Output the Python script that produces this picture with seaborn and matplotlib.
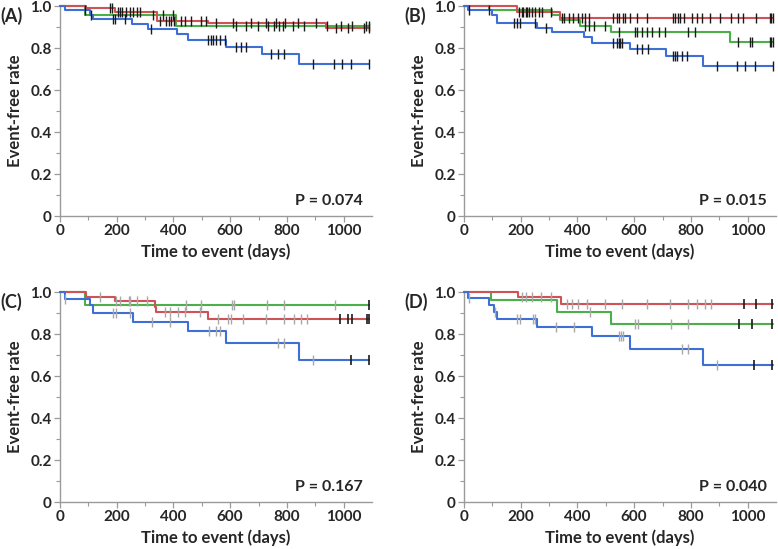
import numpy as np
import matplotlib
matplotlib.use("Agg")
import matplotlib.pyplot as plt
import seaborn as sns

# Kaplan-Meier step curves (days, event-free rate)
A_blue_t = [0, 18, 105, 115, 255, 311, 414, 451, 586, 713, 844, 1090]
A_blue_s = [1.0, 0.980, 0.958, 0.939, 0.914, 0.889, 0.866, 0.839, 0.806, 0.772, 0.722, 0.722]
A_red_t = [0, 91, 193, 342, 522, 938, 1090]
A_red_s = [1.0, 0.989, 0.970, 0.930, 0.917, 0.894, 0.894]
A_green_t = [0, 88, 410, 1090]
A_green_s = [1.0, 0.956, 0.905, 0.905]

B_blue_t = [0, 15, 100, 115, 258, 311, 422, 451, 586, 713, 844, 1090]
B_blue_s = [1.0, 0.979, 0.959, 0.921, 0.897, 0.876, 0.852, 0.825, 0.797, 0.760, 0.713, 0.713]
B_red_t = [0, 188, 340, 1090]
B_red_s = [1.0, 0.971, 0.943, 0.943]
B_green_t = [0, 88, 311, 340, 410, 519, 938, 1090]
B_green_s = [1.0, 0.979, 0.956, 0.932, 0.905, 0.876, 0.829, 0.829]

C_blue_t = [0, 18, 105, 115, 258, 451, 586, 844, 1090]
C_blue_s = [1.0, 0.965, 0.937, 0.902, 0.858, 0.816, 0.756, 0.677, 0.677]
C_red_t = [0, 91, 193, 334, 340, 522, 1090]
C_red_s = [1.0, 0.976, 0.956, 0.929, 0.906, 0.872, 0.872]
C_green_t = [0, 88, 1090]
C_green_s = [1.0, 0.940, 0.940]

D_blue_t = [0, 15, 88, 105, 117, 258, 451, 586, 844, 1090]
D_blue_s = [1.0, 0.971, 0.939, 0.905, 0.872, 0.832, 0.790, 0.728, 0.654, 0.654]
D_red_t = [0, 191, 342, 1090]
D_red_s = [1.0, 0.974, 0.942, 0.942]
D_green_t = [0, 94, 328, 519, 1090]
D_green_s = [1.0, 0.963, 0.904, 0.850, 0.850]

# censored observations (days); "_dark" ones are drawn black in C/D
A_blue_cens = [88, 111, 188, 193, 229, 322, 522, 531, 541, 551, 565, 580, 621, 639, 656,
               744, 768, 791, 891, 965, 994, 1026, 1090]
A_red_cens = [176, 182, 205, 211, 217, 232, 246, 258, 272, 281, 352, 375, 384, 393, 401,
              428, 440, 463, 498, 516, 551, 609, 674, 727, 762, 795, 838, 902, 973, 1014,
              1072, 1090]
A_green_cens = [328, 363, 400, 621, 656, 697, 732, 756, 771, 785, 820, 861, 943, 990,
                1031, 1078, 1088]

B_blue_cens = [18, 88, 176, 188, 199, 252, 289, 527, 539, 545, 551, 557, 609, 627, 650,
               738, 744, 750, 768, 785, 891, 961, 990, 1026, 1090]
B_red_cens = [193, 205, 209, 217, 223, 229, 240, 252, 264, 275, 305, 346, 352, 369, 383,
              402, 416, 428, 440, 527, 539, 547, 559, 568, 586, 609, 645, 738, 744, 756,
              762, 774, 803, 820, 838, 867, 902, 943, 967, 984, 1031, 1078, 1084, 1090]
B_green_cens = [428, 440, 457, 498, 545, 604, 609, 627, 645, 662, 686, 709, 791, 815,
                967, 1008, 1014, 1078, 1084, 1090]

C_blue_cens = [18, 188, 199, 246, 326, 389, 525, 551, 563, 768, 791, 891]
C_blue_dark = [1026, 1090]
C_red_cens = [141, 199, 211, 244, 248, 272, 305, 369, 387, 416, 440, 492, 557, 592, 604,
              645, 727, 791, 826, 850, 870]
C_red_dark = [987, 1014, 1031, 1084, 1088]
C_green_cens = [445, 498, 607, 612, 729, 788, 970]
C_green_dark = [1090]

D_blue_cens = [18, 111, 188, 199, 244, 252, 325, 387, 545, 553, 560, 768, 791, 891]
D_blue_dark = [1023, 1086]
D_red_cens = [203, 217, 240, 270, 308, 363, 381, 402, 434, 498, 557, 645, 727, 791, 820,
              850, 871]
D_red_dark = [988, 1031, 1086]
D_green_cens = [445, 604, 613, 730, 789]
D_green_dark = [969, 1016, 1086]

panel_labels = ["(A)", "(B)", "(C)", "(D)"]
p_values = ["P = 0.074", "P = 0.015", "P = 0.167", "P = 0.040"]

BLUE = "#3d6fd6"
RED = "#cf5257"
GREEN = "#4daf4a"
DARK = "#1a1a1a"
GRAY = "#a8a8a8"
AXIS = "#9a9a9a"


def surv_at(t, s, when):
    idx = np.searchsorted(t, when, side="right") - 1
    return np.asarray(s)[idx]


def ticks(ax, t, s, when, color, mew):
    # censor marks: short vertical dashes sitting on the curve
    sns.lineplot(x=when, y=surv_at(t, s, when), ax=ax, color=color, linestyle="",
                 marker="|", markersize=7, markeredgewidth=mew, markeredgecolor=color,
                 estimator=None, sort=False, clip_on=False, zorder=4)


def draw_group(ax, t, s, color, cens, cens_color, dark=None):
    sns.lineplot(x=t, y=s, ax=ax, color=color, lw=1.5, drawstyle="steps-post",
                 estimator=None, sort=False, clip_on=False, zorder=3)
    ticks(ax, t, s, cens, cens_color, 1.0)
    if dark:
        ticks(ax, t, s, dark, DARK, 1.2)


def style_axis(ax, label, pval):
    ax.set_xlim(0, 1100)
    ax.set_ylim(0, 1.0)
    ax.set_xticks(range(0, 1001, 200))
    ax.set_xticks(range(100, 1100, 200), minor=True)
    ax.set_yticks([0, 0.2, 0.4, 0.6, 0.8, 1.0])
    ax.set_yticklabels(["0", "0.2", "0.4", "0.6", "0.8", "1.0"])
    ax.set_yticks([0.1, 0.3, 0.5, 0.7, 0.9], minor=True)
    for sp in ["top", "right"]:
        ax.spines[sp].set_visible(False)
    for sp in ["left", "bottom"]:
        ax.spines[sp].set_color(AXIS)
        ax.spines[sp].set_linewidth(1.0)
    ax.tick_params(which="major", direction="out", length=4, width=0.9, color=AXIS,
                   labelsize=11, pad=2)
    ax.tick_params(which="minor", direction="out", length=3, width=0.8, color=AXIS)
    for lab in ax.get_xticklabels() + ax.get_yticklabels():
        lab.set_fontweight("bold")
    ax.set_xlabel("Time to event (days)", fontsize=12, fontweight="bold", labelpad=4)
    ax.set_ylabel("Event-free rate", fontsize=12, fontweight="bold", labelpad=5)
    ax.text(0.97, 0.07, pval, transform=ax.transAxes, ha="right", va="center",
            fontsize=11.5, fontweight="bold")
    ax.text(-0.19, 0.955, label, transform=ax.transAxes, ha="left", va="center",
            fontsize=13, fontweight="bold")


sns.set_style("ticks")
plt.rcParams["font.family"] = ["Lato", "DejaVu Sans"]

fig = plt.figure(figsize=(7.78, 5.49), dpi=100)
w, h = 312 / 778, 210 / 549
axA = fig.add_axes([60 / 778, 1 - 216 / 549, w, h])
axB = fig.add_axes([464 / 778, 1 - 216 / 549, w, h])
axC = fig.add_axes([60 / 778, 1 - 502 / 549, w, h])
axD = fig.add_axes([464 / 778, 1 - 502 / 549, w, h])

draw_group(axA, A_green_t, A_green_s, GREEN, A_green_cens, DARK)
draw_group(axA, A_red_t, A_red_s, RED, A_red_cens, DARK)
draw_group(axA, A_blue_t, A_blue_s, BLUE, A_blue_cens, DARK)

draw_group(axB, B_green_t, B_green_s, GREEN, B_green_cens, DARK)
draw_group(axB, B_red_t, B_red_s, RED, B_red_cens, DARK)
draw_group(axB, B_blue_t, B_blue_s, BLUE, B_blue_cens, DARK)

draw_group(axC, C_green_t, C_green_s, GREEN, C_green_cens, GRAY, C_green_dark)
draw_group(axC, C_red_t, C_red_s, RED, C_red_cens, GRAY, C_red_dark)
draw_group(axC, C_blue_t, C_blue_s, BLUE, C_blue_cens, GRAY, C_blue_dark)

draw_group(axD, D_green_t, D_green_s, GREEN, D_green_cens, GRAY, D_green_dark)
draw_group(axD, D_red_t, D_red_s, RED, D_red_cens, GRAY, D_red_dark)
draw_group(axD, D_blue_t, D_blue_s, BLUE, D_blue_cens, GRAY, D_blue_dark)

for ax, lab, pv in zip([axA, axB, axC, axD], panel_labels, p_values):
    style_axis(ax, lab, pv)

fig.savefig("out.png", dpi=100)
